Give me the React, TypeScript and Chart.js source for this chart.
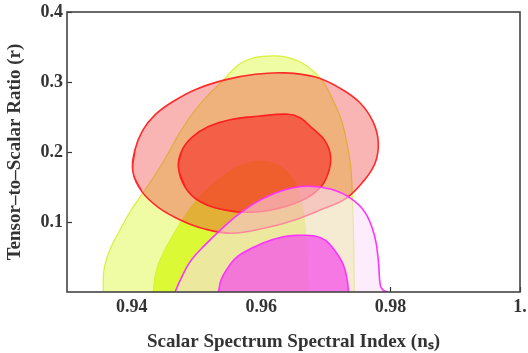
import React, { useEffect, useRef } from 'react';
import { Chart, registerables } from 'chart.js';

Chart.register(...registerables);

// Axis ticks and labels
const xTicks = [0.94, 0.96, 0.98, 1.0];
const yTicks = [0.1, 0.2, 0.3, 0.4];
const xLabel = 'Scalar Spectrum Spectral Index (nₛ)';
const yLabel = 'Tensor–to–Scalar Ratio (r)';

// Yellow-green contours (95% and 68%), open at the r = 0 axis
const yellowOuterNs = [0.9356, 0.9357, 0.9366, 0.9382, 0.9397, 0.9413, 0.9431, 0.9452, 0.9475, 0.9498, 0.9521, 0.954, 0.9564, 0.9586, 0.9611, 0.9637, 0.966, 0.9679, 0.9696, 0.9711, 0.9724, 0.9733, 0.9739, 0.9741, 0.9743, 0.9744];
const yellowOuterR = [0, 0.031, 0.06, 0.089, 0.114, 0.136, 0.16, 0.191, 0.229, 0.26, 0.284, 0.301, 0.324, 0.334, 0.337, 0.336, 0.329, 0.317, 0.3, 0.274, 0.246, 0.21, 0.174, 0.131, 0.074, 0];

const yellowInnerNs = [0.9433, 0.9438, 0.9447, 0.9459, 0.9478, 0.9498, 0.9521, 0.9549, 0.9575, 0.9602, 0.9626, 0.9645, 0.9657, 0.9665, 0.967, 0.9673];
const yellowInnerR = [0, 0.031, 0.053, 0.074, 0.103, 0.129, 0.151, 0.171, 0.183, 0.187, 0.181, 0.167, 0.146, 0.114, 0.067, 0];

// Red contours (closed loops)
const redOuterNs = [0.9402, 0.9405, 0.9417, 0.9436, 0.9462, 0.9498, 0.9544, 0.9591, 0.9637, 0.9684, 0.9722, 0.9753, 0.9773, 0.9781, 0.9776, 0.9757, 0.973, 0.9691, 0.9652, 0.9604, 0.9555, 0.9513, 0.9475, 0.9441, 0.9416];
const redOuterR = [0.171, 0.203, 0.231, 0.253, 0.271, 0.289, 0.303, 0.311, 0.313, 0.307, 0.291, 0.27, 0.243, 0.214, 0.184, 0.157, 0.133, 0.117, 0.103, 0.091, 0.084, 0.09, 0.103, 0.121, 0.143];

const redInnerNs = [0.9472, 0.9478, 0.9493, 0.9518, 0.9552, 0.9595, 0.9642, 0.966, 0.9679, 0.9698, 0.9707, 0.9705, 0.9693, 0.9668, 0.9629, 0.9586, 0.9545, 0.9506, 0.9483];
const redInnerR = [0.179, 0.203, 0.221, 0.236, 0.246, 0.251, 0.254, 0.249, 0.234, 0.217, 0.196, 0.174, 0.151, 0.133, 0.12, 0.114, 0.117, 0.129, 0.149];

// Magenta contours, open at the r = 0 axis
const magentaOuterNs = [0.9467, 0.9475, 0.949, 0.9513, 0.954, 0.9568, 0.9602, 0.9637, 0.9671, 0.9707, 0.9738, 0.9761, 0.9775, 0.9781, 0.9784, 0.9788, 0.9795];
const magentaOuterR = [0, 0.017, 0.043, 0.067, 0.091, 0.113, 0.133, 0.146, 0.151, 0.147, 0.134, 0.113, 0.081, 0.046, 0.01, 0.003, 0];

const magentaInnerNs = [0.9534, 0.9538, 0.9546, 0.9558, 0.9572, 0.9603, 0.9634, 0.9658, 0.9683, 0.9699, 0.9714, 0.9727, 0.9733, 0.9735];
const magentaInnerR = [0, 0.017, 0.031, 0.046, 0.056, 0.07, 0.079, 0.081, 0.08, 0.074, 0.059, 0.039, 0.017, 0];

const pts = (xs: number[], ys: number[]) => xs.map((x, i) => ({ x, y: ys[i] }));
// closed loop: wrap one point on each side so the spline is smooth where it joins
const loop = (xs: number[], ys: number[]) => {
  const p = pts(xs, ys);
  return [p[p.length - 1], ...p, p[0], p[1]];
};

const framePlugin = {
  id: 'frame',
  afterDraw(chart: any) {
    const { ctx, chartArea: a } = chart;
    ctx.save();
    ctx.strokeStyle = '#444';
    ctx.lineWidth = 1.6;
    ctx.strokeRect(a.left, a.top, a.right - a.left, a.bottom - a.top);
    ctx.restore();
  },
};

export default function App() {
  const ref = useRef<HTMLCanvasElement>(null);

  useEffect(() => {
    if (!ref.current) return;
    const common = {
      pointRadius: 0,
      pointHoverRadius: 0,
      tension: 0.4,
      fill: 'shape',
      clip: 0,
      borderJoinStyle: 'round',
    };
    const chart = new Chart(ref.current, {
      type: 'line',
      data: {
        datasets: [
          { ...common, label: 'yellow95', data: pts(yellowOuterNs, yellowOuterR), backgroundColor: '#f0fca4', borderColor: '#d9f03c', borderWidth: 1.2, order: 6 },
          { ...common, label: 'yellow68', data: pts(yellowInnerNs, yellowInnerR), backgroundColor: '#dcf935', borderColor: '#d2f028', borderWidth: 0.8, order: 5 },
          { ...common, label: 'red95', data: loop(redOuterNs, redOuterR), backgroundColor: 'rgba(240,60,60,0.385)', borderColor: '#ff2a2a', borderWidth: 1.6, order: 4 },
          { ...common, label: 'red68', data: loop(redInnerNs, redInnerR), backgroundColor: 'rgba(245,50,40,0.64)', borderColor: '#ff2020', borderWidth: 1.6, order: 3 },
          { ...common, label: 'magenta95', data: pts(magentaOuterNs, magentaOuterR), backgroundColor: 'rgba(250,220,250,0.54)', borderColor: '#ff33ff', borderWidth: 1.6, order: 2 },
          { ...common, label: 'magenta68', data: pts(magentaInnerNs, magentaInnerR), backgroundColor: 'rgba(245,80,235,0.74)', borderColor: '#ff33ff', borderWidth: 1.6, order: 1 },
        ] as any,
      },
      options: {
        animation: false,
        responsive: true,
        maintainAspectRatio: false,
        events: [],
        layout: { padding: { top: 12, right: 8, left: 0, bottom: 0 } },
        plugins: { legend: { display: false }, tooltip: { enabled: false } },
        scales: {
          x: {
            type: 'linear',
            min: 0.93,
            max: 1.0,
            z: 1,
            afterBuildTicks: (s: any) => { s.ticks = xTicks.map((v) => ({ value: v })); },
            afterFit: (s: any) => { s.height = 61; s.paddingLeft = 0; s.paddingRight = 0; },
            ticks: {
              autoSkip: false,
              maxRotation: 0,
              padding: 10,
              color: '#333',
              font: { size: 18, weight: 'bold' },
              callback: (v: any) => (Number(v) === 1 ? '1.' : Number(v).toFixed(2)),
            },
            grid: { drawOnChartArea: false, tickLength: -5, tickWidth: 1.2, color: '#333' },
            border: { display: false },
            title: { display: true, text: xLabel, color: '#333', font: { size: 19, weight: 'bold' }, padding: { top: 0, bottom: 0 } },
          },
          y: {
            type: 'linear',
            min: 0,
            max: 0.4,
            z: 1,
            afterBuildTicks: (s: any) => { s.ticks = yTicks.map((v) => ({ value: v })); },
            afterFit: (s: any) => { s.width = 67; s.paddingTop = 0; s.paddingBottom = 0; },
            ticks: {
              autoSkip: false,
              padding: 9,
              color: '#333',
              font: { size: 18, weight: 'bold' },
              callback: (v: any) => Number(v).toFixed(1),
            },
            grid: { drawOnChartArea: false, tickLength: -5, tickWidth: 1.2, color: '#333' },
            border: { display: false },
            title: { display: true, text: yLabel, color: '#333', font: { size: 19, weight: 'bold' }, padding: { top: 4, bottom: 0 } },
          },
        },
      } as any,
      plugins: [framePlugin],
    });
    return () => chart.destroy();
  }, []);

  return (
    <div style={{ position: 'fixed', left: 0, top: 0, width: 528, height: 353 }}>
      <canvas ref={ref} />
    </div>
  );
}

Chart.defaults.font.family = "'Liberation Serif', 'Times New Roman', serif";
